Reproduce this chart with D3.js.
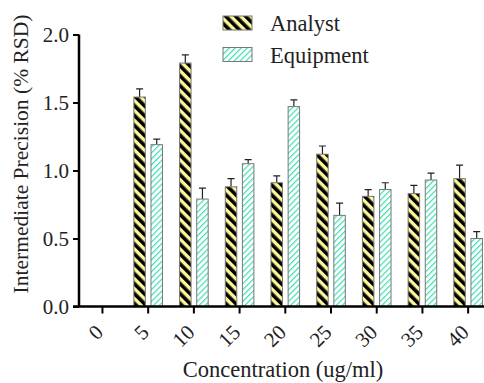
<!DOCTYPE html>
<html>
<head>
<meta charset="utf-8">
<script src="https://cdn.jsdelivr.net/npm/d3@7"></script>
<style>
  body { margin: 0; background: #fff; }
  text { font-family: "Liberation Serif", "Times New Roman", serif; }
</style>
</head>
<body>
<svg id="chart"></svg>
<script>
const categories = ["0", "5", "10", "15", "20", "25", "30", "35", "40"];
const seriesNames = ["Analyst", "Equipment"];
const analyst = [null, 1.54, 1.79, 0.88, 0.91, 1.12, 0.81, 0.83, 0.94];
const analystErr = [null, 0.06, 0.06, 0.06, 0.05, 0.06, 0.05, 0.06, 0.10];
const equipment = [null, 1.19, 0.79, 1.05, 1.47, 0.67, 0.86, 0.93, 0.50];
const equipmentErr = [null, 0.04, 0.08, 0.03, 0.05, 0.09, 0.05, 0.05, 0.05];
const yTicks = [0, 0.5, 1.0, 1.5, 2.0];

const width = 484, height = 383;
const margin = { top: 34.5, right: -3, bottom: 76.5, left: 79 };

const svg = d3.select("#chart")
  .attr("width", width)
  .attr("height", height);

const defs = svg.append("defs");

// Analyst: yellow with thick black "\" stripes
const pA = defs.append("pattern")
  .attr("id", "pat-analyst")
  .attr("patternUnits", "userSpaceOnUse")
  .attr("width", 7).attr("height", 7)
  .attr("patternTransform", "rotate(-45)");
pA.append("rect").attr("width", 7).attr("height", 7).attr("fill", "#fdf79b");
pA.append("rect").attr("width", 3.6).attr("height", 7).attr("fill", "#000");

// Equipment: white with thin teal "/" stripes
const pE = defs.append("pattern")
  .attr("id", "pat-equipment")
  .attr("patternUnits", "userSpaceOnUse")
  .attr("width", 4.2).attr("height", 4.2)
  .attr("patternTransform", "rotate(45)");
pE.append("rect").attr("width", 4.2).attr("height", 4.2).attr("fill", "#fff");
pE.append("rect").attr("width", 1.2).attr("height", 4.2).attr("fill", "#3fe0b4");

const fills = ["url(#pat-analyst)", "url(#pat-equipment)"];

const x = d3.scaleBand()
  .domain(categories)
  .range([margin.left + 0.6, width - margin.right + 4])
  .paddingInner(0).paddingOuter(0);

const xSub = d3.scaleBand()
  .domain(seriesNames)
  .range([x.bandwidth() / 2 - 14.3, x.bandwidth() / 2 + 14.3])
  .paddingInner(0.33);

const y = d3.scaleLinear()
  .domain([0, 2])
  .range([height - margin.bottom, margin.top]);

const rows = categories.map((c, i) => ({
  cat: c,
  vals: [
    { s: seriesNames[0], v: analyst[i], e: analystErr[i], k: 0 },
    { s: seriesNames[1], v: equipment[i], e: equipmentErr[i], k: 1 }
  ].filter(d => d.v != null)
}));

const groups = svg.append("g").selectAll("g")
  .data(rows)
  .join("g")
  .attr("transform", d => `translate(${x(d.cat)},0)`);

// error bars (upper half only)
groups.selectAll("path.err")
  .data(d => d.vals)
  .join("path")
  .attr("class", "err")
  .attr("fill", "none")
  .attr("stroke", "#222")
  .attr("stroke-width", 1.2)
  .attr("d", d => {
    const cx = xSub(d.s) + xSub.bandwidth() / 2;
    const yt = y(d.v + d.e), yb = y(d.v);
    return `M${cx},${yb}V${yt}M${cx - 3.5},${yt}H${cx + 3.5}`;
  });

groups.selectAll("rect.bar")
  .data(d => d.vals)
  .join("rect")
  .attr("class", "bar")
  .attr("x", d => xSub(d.s))
  .attr("width", xSub.bandwidth())
  .attr("y", d => y(d.v))
  .attr("height", d => y(0) - y(d.v))
  .attr("fill", d => fills[d.k])
  .attr("stroke", "#777")
  .attr("stroke-width", 1);

// y axis
const yAxis = svg.append("g")
  .attr("transform", `translate(${margin.left},0)`)
  .call(d3.axisLeft(y).tickValues(yTicks).tickFormat(d3.format(".1f")).tickSize(6).tickPadding(4));
yAxis.select(".domain").attr("stroke", "#000").attr("stroke-width", 2.5)
  .attr("d", `M0,${y(0)}V${y(2)}`);
yAxis.selectAll(".tick line").attr("stroke", "#000").attr("stroke-width", 2);
yAxis.selectAll(".tick text").attr("font-size", 21).attr("fill", "#222")
  .attr("font-family", "Liberation Serif");

// x axis
const xAxis = svg.append("g")
  .attr("transform", `translate(0,${y(0)})`)
  .call(d3.axisBottom(x).tickSize(7).tickSizeOuter(0));
xAxis.select(".domain").attr("stroke", "#000").attr("stroke-width", 2.5)
  .attr("d", `M${margin.left - 6},0H${width}`);
xAxis.selectAll(".tick line").attr("stroke", "#000").attr("stroke-width", 2);
xAxis.selectAll(".tick text")
  .attr("font-size", 21).attr("fill", "#222")
  .attr("font-family", "Liberation Serif")
  .attr("text-anchor", "end")
  .attr("dy", null)
  .attr("y", 0)
  .attr("transform", "translate(2,27) rotate(-45)");

// axis titles
svg.append("text")
  .attr("x", 283).attr("y", 377)
  .attr("text-anchor", "middle")
  .attr("font-size", 22.5).attr("fill", "#222")
  .text("Concentration (ug/ml)");

svg.append("text")
  .attr("transform", `translate(28,154) rotate(-90)`)
  .attr("text-anchor", "middle")
  .attr("font-size", 21.5).attr("fill", "#222")
  .text("Intermediate Precision (% RSD)");

// legend
const legend = svg.append("g").selectAll("g")
  .data(seriesNames)
  .join("g")
  .attr("transform", (d, i) => `translate(223,${16 + i * 31.5})`);
legend.append("rect")
  .attr("width", 29).attr("height", 14)
  .attr("fill", (d, i) => fills[i])
  .attr("stroke", "#777").attr("stroke-width", 1);
legend.append("text")
  .attr("x", 47).attr("y", 15.3)
  .attr("font-size", 22.5).attr("fill", "#222")
  .text(d => d);
</script>
</body>
</html>
